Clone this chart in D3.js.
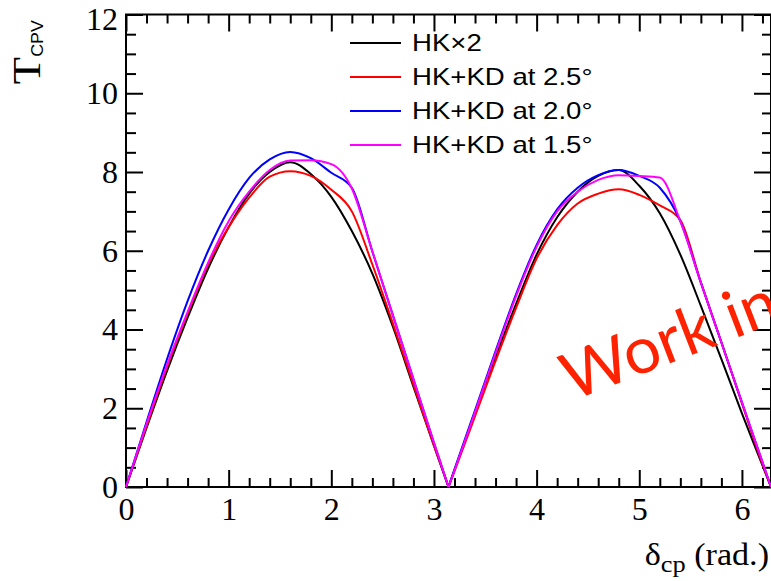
<!DOCTYPE html>
<html>
<head>
<meta charset="utf-8">
<script src="https://cdn.jsdelivr.net/npm/d3@7"></script>
<style>
  html, body { margin: 0; padding: 0; background: #fff; }
  svg { display: block; }
</style>
</head>
<body>
<script>
// delta_cp grid (rad.)
const deltaCP = [0, 0.2, 0.4, 0.6, 0.8, 1.0, 1.2, 1.4, 1.6, 1.8, 2.0, 2.2, 2.4, 2.6, 2.8, 3.0, 3.1416,
                 3.2, 3.4, 3.6, 3.8, 4.0, 4.2, 4.4, 4.6, 4.8, 5.0, 5.2, 5.4, 5.6, 5.8, 6.0, 6.2, 6.2832];

// T_CPV for each configuration
const hkx2 = [0, 1.5, 2.95, 4.3, 5.55, 6.6, 7.45, 8.0, 8.25, 7.95, 7.37, 6.5, 5.42, 4.07, 2.55, 1.05, 0,
              0.43, 1.85, 3.3, 4.65, 5.9, 6.85, 7.5, 7.9, 8.05, 7.65, 6.95, 5.9, 4.6, 3.25, 1.87, 0.55, 0];
const kd25 = [0, 1.55, 3.05, 4.4, 5.65, 6.6, 7.35, 7.88, 8.02, 7.9, 7.55, 7.0, 5.65, 4.15, 2.6, 1.05, 0,
              0.4, 1.8, 3.2, 4.55, 5.8, 6.65, 7.2, 7.45, 7.56, 7.42, 7.15, 6.78, 5.2, 3.68, 2.12, 0.58, 0];
const kd20 = [0, 1.65, 3.25, 4.72, 6.0, 7.05, 7.85, 8.32, 8.51, 8.35, 7.98, 7.6, 5.98, 4.36, 2.74, 1.12, 0,
              0.45, 1.95, 3.45, 4.9, 6.15, 7.05, 7.6, 7.92, 8.05, 7.9, 7.6, 6.75, 5.19, 3.67, 2.15, 0.63, 0];
const kd15 = [0, 1.6, 3.1, 4.45, 5.7, 6.75, 7.5, 8.05, 8.29, 8.3, 8.2, 7.58, 5.98, 4.36, 2.74, 1.12, 0,
              0.42, 1.9, 3.4, 4.85, 6.1, 7.0, 7.5, 7.8, 7.92, 7.9, 7.86, 6.75, 5.19, 3.67, 2.15, 0.63, 0];

const seriesNames = ["HK\u00d72", "HK+KD at 2.5\u00b0", "HK+KD at 2.0\u00b0", "HK+KD at 1.5\u00b0"];
const seriesColors = ["#000000", "#ff0000", "#0000ff", "#ff00ff"];
const seriesValues = [hkx2, kd25, kd20, kd15];

const xTicks = [0, 1, 2, 3, 4, 5, 6];
const yTicks = [0, 2, 4, 6, 8, 10, 12];

const W = 771, H = 581;
const mLeft = 126, mRight = 771, mTop = 14.5, mBottom = 487;

const svg = d3.select("body").append("svg").attr("width", W).attr("height", H);

// Scales
const x = d3.scaleLinear().domain([0, 6.2832]).range([mLeft, mRight]);
const y = d3.scaleLinear().domain([0, 12]).range([mBottom, mTop]);

const xMinor = d3.range(0, 6.3, 0.2).filter(v => Math.abs(v - Math.round(v)) > 0.01);
const yMinor = d3.range(0, 12.01, 0.5).filter(v => v % 2 !== 0);

// Axes (ticks pointing inward, ROOT style)
function styleAxis(g) {
  g.select(".domain").remove();
  g.selectAll("line").attr("stroke", "#000").attr("stroke-width", 2);
  g.selectAll("text").attr("fill", "#000")
    .style("font-family", "'Liberation Serif', 'Times New Roman', serif").style("font-size", "32px");
}

svg.append("g").attr("transform", `translate(0,${mBottom})`)
   .call(d3.axisBottom(x).tickValues(xTicks).tickSize(-17).tickPadding(10).tickFormat(d3.format("d")))
   .call(styleAxis);
svg.append("g").attr("transform", `translate(0,${mBottom})`)
   .call(d3.axisBottom(x).tickValues(xMinor).tickSize(-9).tickFormat(""))
   .call(styleAxis);
svg.append("g").attr("transform", `translate(0,${mTop})`)
   .call(d3.axisTop(x).tickValues(xTicks).tickSize(-17).tickFormat(""))
   .call(styleAxis);
svg.append("g").attr("transform", `translate(0,${mTop})`)
   .call(d3.axisTop(x).tickValues(xMinor).tickSize(-9).tickFormat(""))
   .call(styleAxis);

const yAxisG = svg.append("g").attr("transform", `translate(${mLeft},0)`)
   .call(d3.axisLeft(y).tickValues(yTicks).tickSize(-17).tickPadding(8).tickFormat(d3.format("d")))
   .call(styleAxis);
// top label sits a little lower, like ROOT draws it
yAxisG.selectAll(".tick text").filter(d => d === 12).attr("y", 5);

svg.append("g").attr("transform", `translate(${mLeft},0)`)
   .call(d3.axisLeft(y).tickValues(yMinor).tickSize(-10).tickFormat(""))
   .call(styleAxis);
svg.append("g").attr("transform", `translate(${mRight},0)`)
   .call(d3.axisRight(y).tickValues(yTicks).tickSize(-17).tickFormat(""))
   .call(styleAxis);
svg.append("g").attr("transform", `translate(${mRight},0)`)
   .call(d3.axisRight(y).tickValues(yMinor).tickSize(-9).tickFormat(""))
   .call(styleAxis);

// frame
svg.append("rect")
   .attr("x", mLeft).attr("y", mTop)
   .attr("width", mRight - mLeft).attr("height", mBottom - mTop)
   .attr("fill", "none").attr("stroke", "#000").attr("stroke-width", 2);

// Curves: each hump drawn separately so the dip at pi stays sharp
const line = d3.line().x(d => x(d[0])).y(d => y(d[1])).curve(d3.curveMonotoneX);

const curves = svg.append("g");
seriesValues.forEach((vals, i) => {
  const pts = deltaCP.map((d, j) => [d, vals[j]]);
  const halves = [pts.filter(p => p[0] <= 3.1416), pts.filter(p => p[0] >= 3.1416)];
  halves.forEach(h => {
    curves.append("path")
      .attr("d", line(h))
      .attr("fill", "none")
      .attr("stroke", seriesColors[i])
      .attr("stroke-width", 2)
      .attr("stroke-linejoin", "round");
  });
});

// Legend
const legend = svg.append("g");
const legY = [43, 77, 111, 145];
seriesNames.forEach((name, i) => {
  legend.append("line")
    .attr("x1", 350).attr("x2", 401)
    .attr("y1", legY[i]).attr("y2", legY[i])
    .attr("stroke", seriesColors[i]).attr("stroke-width", 2);
  legend.append("text")
    .attr("transform", `translate(412,${legY[i] + 8}) scale(1.2,1)`)
    .style("font-family", "'Liberation Sans', Arial, sans-serif")
    .style("font-size", "23px")
    .attr("fill", "#000")
    .text(name);
});

// Axis titles
const yTitle = svg.append("text")
  .attr("transform", "translate(40,20) rotate(-90) scale(1.12,1)")
  .attr("text-anchor", "end")
  .attr("fill", "#000");
yTitle.append("tspan").text("T")
  .style("font-family", "'Liberation Serif', serif").style("font-size", "40px");
yTitle.append("tspan").text("CPV").attr("dy", 3)
  .style("font-family", "'Liberation Sans', sans-serif").style("font-size", "16px");

const xTitle = svg.append("text")
  .attr("transform", "translate(769,565) scale(1.1,1)")
  .attr("text-anchor", "end")
  .attr("fill", "#000")
  .style("font-family", "'Liberation Serif', serif");
xTitle.append("tspan").text("\u03b4").style("font-size", "31px");
xTitle.append("tspan").text("cp").attr("dy", 7).style("font-size", "24px");
xTitle.append("tspan").text(" (rad.)").attr("dy", -7).style("font-size", "31px");

// Watermark (runs off the right edge, as in the original slide)
svg.append("text")
  .attr("transform", "translate(572,401) rotate(-21)")
  .attr("fill", "#ff2200")
  .style("font-family", "Lato, 'Open Sans', sans-serif")
  .style("font-size", "65px")
  .text("Work in");
</script>
</body>
</html>
